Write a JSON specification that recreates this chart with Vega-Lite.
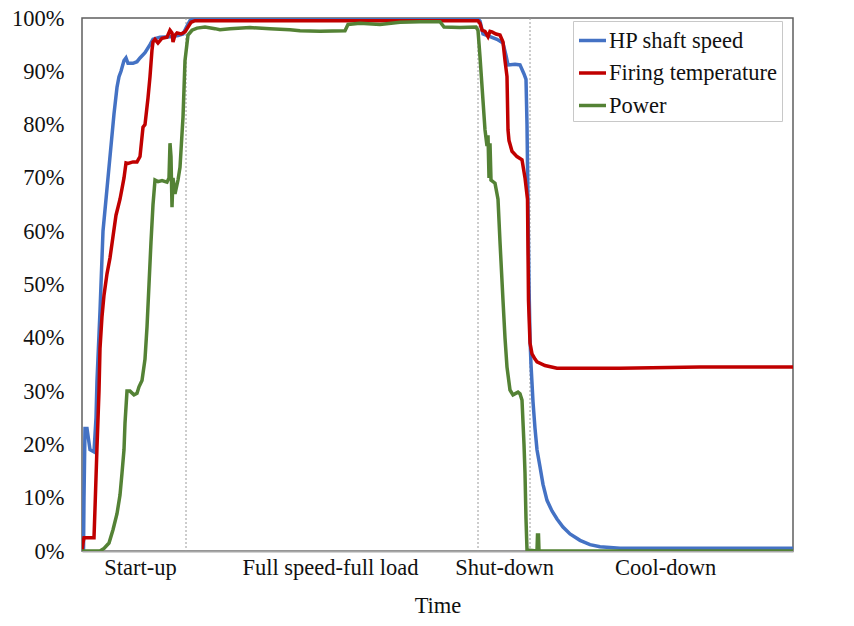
{
  "$schema": "https://vega.github.io/schema/vega-lite/v6.json",
  "autosize": {"type": "none"},
  "padding": {"left": 82, "top": 18, "right": 61, "bottom": 75},
  "width": 711,
  "height": 533,
  "background": "white",
  "config": {
    "view": {"stroke": "#5f5f5f", "strokeWidth": 1.5},
    "font": "Liberation Serif"
  },
  "datasets": {
    "series": [
      {"t": 0, "v": 0, "s": "HP shaft speed"},
      {"t": 1.5, "v": 0, "s": "HP shaft speed"},
      {"t": 2, "v": 10, "s": "HP shaft speed"},
      {"t": 3, "v": 23, "s": "HP shaft speed"},
      {"t": 5, "v": 23, "s": "HP shaft speed"},
      {"t": 8, "v": 19, "s": "HP shaft speed"},
      {"t": 12, "v": 18.6, "s": "HP shaft speed"},
      {"t": 14, "v": 25, "s": "HP shaft speed"},
      {"t": 15, "v": 32, "s": "HP shaft speed"},
      {"t": 18, "v": 45, "s": "HP shaft speed"},
      {"t": 21, "v": 60, "s": "HP shaft speed"},
      {"t": 24, "v": 66, "s": "HP shaft speed"},
      {"t": 26, "v": 70, "s": "HP shaft speed"},
      {"t": 29, "v": 76, "s": "HP shaft speed"},
      {"t": 32, "v": 82, "s": "HP shaft speed"},
      {"t": 35, "v": 87, "s": "HP shaft speed"},
      {"t": 37, "v": 89, "s": "HP shaft speed"},
      {"t": 39, "v": 90, "s": "HP shaft speed"},
      {"t": 42, "v": 92, "s": "HP shaft speed"},
      {"t": 44, "v": 92.5, "s": "HP shaft speed"},
      {"t": 46, "v": 91.5, "s": "HP shaft speed"},
      {"t": 51, "v": 91.5, "s": "HP shaft speed"},
      {"t": 55, "v": 91.8, "s": "HP shaft speed"},
      {"t": 58, "v": 92.5, "s": "HP shaft speed"},
      {"t": 63, "v": 93.5, "s": "HP shaft speed"},
      {"t": 68, "v": 95, "s": "HP shaft speed"},
      {"t": 71, "v": 96, "s": "HP shaft speed"},
      {"t": 78, "v": 96.4, "s": "HP shaft speed"},
      {"t": 88, "v": 96.5, "s": "HP shaft speed"},
      {"t": 96, "v": 96.7, "s": "HP shaft speed"},
      {"t": 101, "v": 97, "s": "HP shaft speed"},
      {"t": 105, "v": 98.5, "s": "HP shaft speed"},
      {"t": 108, "v": 99.5, "s": "HP shaft speed"},
      {"t": 111, "v": 99.8, "s": "HP shaft speed"},
      {"t": 250, "v": 99.8, "s": "HP shaft speed"},
      {"t": 396, "v": 99.8, "s": "HP shaft speed"},
      {"t": 398, "v": 99.4, "s": "HP shaft speed"},
      {"t": 401, "v": 97, "s": "HP shaft speed"},
      {"t": 408, "v": 96.5, "s": "HP shaft speed"},
      {"t": 415, "v": 96, "s": "HP shaft speed"},
      {"t": 421, "v": 95.3, "s": "HP shaft speed"},
      {"t": 424, "v": 93, "s": "HP shaft speed"},
      {"t": 426, "v": 91.2, "s": "HP shaft speed"},
      {"t": 433, "v": 91.3, "s": "HP shaft speed"},
      {"t": 438, "v": 91.2, "s": "HP shaft speed"},
      {"t": 442, "v": 89.5, "s": "HP shaft speed"},
      {"t": 444, "v": 88.5, "s": "HP shaft speed"},
      {"t": 445, "v": 80, "s": "HP shaft speed"},
      {"t": 446, "v": 65, "s": "HP shaft speed"},
      {"t": 447, "v": 50, "s": "HP shaft speed"},
      {"t": 448, "v": 40, "s": "HP shaft speed"},
      {"t": 449, "v": 35, "s": "HP shaft speed"},
      {"t": 451, "v": 28, "s": "HP shaft speed"},
      {"t": 453, "v": 23, "s": "HP shaft speed"},
      {"t": 455, "v": 19, "s": "HP shaft speed"},
      {"t": 458, "v": 15.8, "s": "HP shaft speed"},
      {"t": 461, "v": 12.5, "s": "HP shaft speed"},
      {"t": 465, "v": 9.5, "s": "HP shaft speed"},
      {"t": 470, "v": 7.5, "s": "HP shaft speed"},
      {"t": 475, "v": 6, "s": "HP shaft speed"},
      {"t": 481, "v": 4.5, "s": "HP shaft speed"},
      {"t": 488, "v": 3.2, "s": "HP shaft speed"},
      {"t": 498, "v": 2, "s": "HP shaft speed"},
      {"t": 508, "v": 1.2, "s": "HP shaft speed"},
      {"t": 518, "v": 0.8, "s": "HP shaft speed"},
      {"t": 538, "v": 0.5, "s": "HP shaft speed"},
      {"t": 620, "v": 0.5, "s": "HP shaft speed"},
      {"t": 711, "v": 0.5, "s": "HP shaft speed"},

      {"t": 0, "v": 0, "s": "Firing temperature"},
      {"t": 1, "v": 1.5, "s": "Firing temperature"},
      {"t": 2, "v": 2.5, "s": "Firing temperature"},
      {"t": 12, "v": 2.5, "s": "Firing temperature"},
      {"t": 13, "v": 8, "s": "Firing temperature"},
      {"t": 15, "v": 19.5, "s": "Firing temperature"},
      {"t": 17, "v": 30, "s": "Firing temperature"},
      {"t": 18, "v": 38, "s": "Firing temperature"},
      {"t": 20, "v": 44, "s": "Firing temperature"},
      {"t": 22, "v": 48, "s": "Firing temperature"},
      {"t": 25, "v": 52, "s": "Firing temperature"},
      {"t": 28, "v": 55, "s": "Firing temperature"},
      {"t": 31, "v": 59, "s": "Firing temperature"},
      {"t": 34, "v": 63, "s": "Firing temperature"},
      {"t": 36, "v": 64.5, "s": "Firing temperature"},
      {"t": 38, "v": 66, "s": "Firing temperature"},
      {"t": 40, "v": 68, "s": "Firing temperature"},
      {"t": 42, "v": 70, "s": "Firing temperature"},
      {"t": 44, "v": 72.8, "s": "Firing temperature"},
      {"t": 46, "v": 72.7, "s": "Firing temperature"},
      {"t": 51, "v": 73, "s": "Firing temperature"},
      {"t": 55, "v": 73, "s": "Firing temperature"},
      {"t": 58, "v": 74, "s": "Firing temperature"},
      {"t": 61, "v": 79.5, "s": "Firing temperature"},
      {"t": 63, "v": 80, "s": "Firing temperature"},
      {"t": 66, "v": 85, "s": "Firing temperature"},
      {"t": 68, "v": 89, "s": "Firing temperature"},
      {"t": 70, "v": 94, "s": "Firing temperature"},
      {"t": 71, "v": 95.5, "s": "Firing temperature"},
      {"t": 73, "v": 96, "s": "Firing temperature"},
      {"t": 76, "v": 95.3, "s": "Firing temperature"},
      {"t": 80, "v": 96.2, "s": "Firing temperature"},
      {"t": 85, "v": 96.4, "s": "Firing temperature"},
      {"t": 88, "v": 97.7, "s": "Firing temperature"},
      {"t": 90, "v": 97.2, "s": "Firing temperature"},
      {"t": 91, "v": 95.5, "s": "Firing temperature"},
      {"t": 93, "v": 96.8, "s": "Firing temperature"},
      {"t": 95, "v": 97.2, "s": "Firing temperature"},
      {"t": 99, "v": 97, "s": "Firing temperature"},
      {"t": 103, "v": 97.4, "s": "Firing temperature"},
      {"t": 106, "v": 98.3, "s": "Firing temperature"},
      {"t": 109, "v": 99.2, "s": "Firing temperature"},
      {"t": 113, "v": 99.5, "s": "Firing temperature"},
      {"t": 250, "v": 99.5, "s": "Firing temperature"},
      {"t": 396, "v": 99.5, "s": "Firing temperature"},
      {"t": 398, "v": 99, "s": "Firing temperature"},
      {"t": 400, "v": 97.7, "s": "Firing temperature"},
      {"t": 403, "v": 97.5, "s": "Firing temperature"},
      {"t": 406, "v": 96.5, "s": "Firing temperature"},
      {"t": 408, "v": 97.5, "s": "Firing temperature"},
      {"t": 410, "v": 97.4, "s": "Firing temperature"},
      {"t": 414, "v": 97, "s": "Firing temperature"},
      {"t": 418, "v": 96.8, "s": "Firing temperature"},
      {"t": 421, "v": 95.5, "s": "Firing temperature"},
      {"t": 423, "v": 92, "s": "Firing temperature"},
      {"t": 425, "v": 89, "s": "Firing temperature"},
      {"t": 426, "v": 79, "s": "Firing temperature"},
      {"t": 427, "v": 77, "s": "Firing temperature"},
      {"t": 430, "v": 75, "s": "Firing temperature"},
      {"t": 435, "v": 74, "s": "Firing temperature"},
      {"t": 440, "v": 73.4, "s": "Firing temperature"},
      {"t": 443, "v": 70, "s": "Firing temperature"},
      {"t": 445.5, "v": 66, "s": "Firing temperature"},
      {"t": 446.5, "v": 47, "s": "Firing temperature"},
      {"t": 448, "v": 39, "s": "Firing temperature"},
      {"t": 450, "v": 37, "s": "Firing temperature"},
      {"t": 453, "v": 36, "s": "Firing temperature"},
      {"t": 455, "v": 35.5, "s": "Firing temperature"},
      {"t": 463, "v": 34.8, "s": "Firing temperature"},
      {"t": 475, "v": 34.3, "s": "Firing temperature"},
      {"t": 538, "v": 34.3, "s": "Firing temperature"},
      {"t": 618, "v": 34.5, "s": "Firing temperature"},
      {"t": 711, "v": 34.5, "s": "Firing temperature"},

      {"t": 0, "v": 0, "s": "Power"},
      {"t": 18, "v": 0, "s": "Power"},
      {"t": 22, "v": 0.5, "s": "Power"},
      {"t": 27, "v": 1.5, "s": "Power"},
      {"t": 31, "v": 4, "s": "Power"},
      {"t": 35, "v": 7, "s": "Power"},
      {"t": 38, "v": 10.5, "s": "Power"},
      {"t": 40, "v": 14.6, "s": "Power"},
      {"t": 42, "v": 19, "s": "Power"},
      {"t": 43, "v": 24, "s": "Power"},
      {"t": 45, "v": 30, "s": "Power"},
      {"t": 48, "v": 30, "s": "Power"},
      {"t": 52, "v": 29.3, "s": "Power"},
      {"t": 55, "v": 29.6, "s": "Power"},
      {"t": 57, "v": 30.8, "s": "Power"},
      {"t": 60, "v": 32, "s": "Power"},
      {"t": 63, "v": 36, "s": "Power"},
      {"t": 65, "v": 42, "s": "Power"},
      {"t": 67, "v": 50, "s": "Power"},
      {"t": 69, "v": 58, "s": "Power"},
      {"t": 71, "v": 65, "s": "Power"},
      {"t": 73, "v": 69.6, "s": "Power"},
      {"t": 76, "v": 69.3, "s": "Power"},
      {"t": 80, "v": 69.5, "s": "Power"},
      {"t": 85, "v": 69.2, "s": "Power"},
      {"t": 87, "v": 70, "s": "Power"},
      {"t": 88, "v": 76.5, "s": "Power"},
      {"t": 89, "v": 74, "s": "Power"},
      {"t": 90, "v": 64.5, "s": "Power"},
      {"t": 91, "v": 70, "s": "Power"},
      {"t": 93, "v": 67, "s": "Power"},
      {"t": 96, "v": 69.6, "s": "Power"},
      {"t": 98, "v": 72, "s": "Power"},
      {"t": 101, "v": 81.4, "s": "Power"},
      {"t": 103, "v": 92, "s": "Power"},
      {"t": 106, "v": 96.8, "s": "Power"},
      {"t": 110, "v": 97.7, "s": "Power"},
      {"t": 115, "v": 98.1, "s": "Power"},
      {"t": 123, "v": 98.3, "s": "Power"},
      {"t": 133, "v": 98, "s": "Power"},
      {"t": 138, "v": 97.8, "s": "Power"},
      {"t": 148, "v": 98, "s": "Power"},
      {"t": 168, "v": 98.2, "s": "Power"},
      {"t": 188, "v": 98, "s": "Power"},
      {"t": 208, "v": 97.8, "s": "Power"},
      {"t": 218, "v": 97.6, "s": "Power"},
      {"t": 238, "v": 97.5, "s": "Power"},
      {"t": 263, "v": 97.6, "s": "Power"},
      {"t": 266, "v": 98.8, "s": "Power"},
      {"t": 278, "v": 99, "s": "Power"},
      {"t": 298, "v": 98.8, "s": "Power"},
      {"t": 318, "v": 99.2, "s": "Power"},
      {"t": 338, "v": 99.3, "s": "Power"},
      {"t": 358, "v": 99.3, "s": "Power"},
      {"t": 362, "v": 98.3, "s": "Power"},
      {"t": 378, "v": 98.2, "s": "Power"},
      {"t": 394, "v": 98.3, "s": "Power"},
      {"t": 396, "v": 97.7, "s": "Power"},
      {"t": 398, "v": 92.7, "s": "Power"},
      {"t": 403, "v": 79, "s": "Power"},
      {"t": 405, "v": 76, "s": "Power"},
      {"t": 406, "v": 78, "s": "Power"},
      {"t": 407, "v": 70, "s": "Power"},
      {"t": 408, "v": 76.5, "s": "Power"},
      {"t": 409, "v": 69.6, "s": "Power"},
      {"t": 413, "v": 69, "s": "Power"},
      {"t": 416, "v": 66, "s": "Power"},
      {"t": 418, "v": 58, "s": "Power"},
      {"t": 421, "v": 47, "s": "Power"},
      {"t": 423, "v": 40, "s": "Power"},
      {"t": 425, "v": 34.5, "s": "Power"},
      {"t": 428, "v": 30.2, "s": "Power"},
      {"t": 431, "v": 29.3, "s": "Power"},
      {"t": 436, "v": 29.8, "s": "Power"},
      {"t": 438, "v": 29.5, "s": "Power"},
      {"t": 440, "v": 28.3, "s": "Power"},
      {"t": 442, "v": 20, "s": "Power"},
      {"t": 443, "v": 14.6, "s": "Power"},
      {"t": 444, "v": 6, "s": "Power"},
      {"t": 445, "v": 0.2, "s": "Power"},
      {"t": 455, "v": 0, "s": "Power"},
      {"t": 455.5, "v": 3, "s": "Power"},
      {"t": 456.5, "v": 3, "s": "Power"},
      {"t": 457, "v": 0, "s": "Power"},
      {"t": 711, "v": 0, "s": "Power"}
    ],
    "phases": [
      {"t": 104},
      {"t": 396},
      {"t": 448}
    ]
  },
  "layer": [
    {
      "data": {"name": "phases"},
      "mark": {"type": "rule", "color": "#9a9a9a", "strokeWidth": 1, "strokeDash": [2, 2]},
      "encoding": {
        "x": {"field": "t", "type": "quantitative", "scale": {"domain": [0, 711], "nice": false, "zero": false}}
      }
    },
    {
      "data": {"name": "series"},
      "mark": {"type": "line", "strokeWidth": 3.5, "clip": true},
      "encoding": {
        "x": {
          "field": "t",
          "type": "quantitative",
          "scale": {"domain": [0, 711], "nice": false, "zero": false},
          "axis": {
            "values": [58, 248, 422, 583],
            "labelExpr": "datum.value == 58 ? 'Start-up' : datum.value == 248 ? 'Full speed-full load' : datum.value == 422 ? 'Shut-down' : 'Cool-down'",
            "ticks": false,
            "tickSize": 0,
            "grid": false,
            "domainColor": "#a6a6a6",
            "domainWidth": 2,
            "labelFont": "Liberation Serif",
            "labelFontSize": 22.5,
            "labelColor": "#111",
            "labelPadding": 5,
            "labelFlush": false,
            "labelOverlap": false,
            "title": "Time",
            "titleFont": "Liberation Serif",
            "titleFontSize": 22.5,
            "titleFontWeight": "normal",
            "titleColor": "#111",
            "titlePadding": 16
          }
        },
        "y": {
          "field": "v",
          "type": "quantitative",
          "scale": {"domain": [0, 100], "nice": false},
          "axis": {
            "values": [0, 10, 20, 30, 40, 50, 60, 70, 80, 90, 100],
            "labelExpr": "datum.value + '%'",
            "ticks": false,
            "tickSize": 0,
            "grid": false,
            "domain": false,
            "labelFont": "Liberation Serif",
            "labelFontSize": 22.5,
            "labelColor": "#111",
            "labelPadding": 18,
            "labelFlush": false,
            "labelOverlap": false,
            "title": null
          }
        },
        "color": {
          "field": "s",
          "type": "nominal",
          "scale": {
            "domain": ["HP shaft speed", "Firing temperature", "Power"],
            "range": ["#4472c4", "#c00000", "#548235"]
          },
          "legend": {
            "title": null,
            "orient": "none",
            "legendX": 491,
            "legendY": 3,
            "padding": 4,
            "strokeColor": "#c8c8c8",
            "fillColor": "white",
            "symbolType": "stroke",
            "symbolSize": 729,
            "symbolStrokeWidth": 3.5,
            "labelFont": "Liberation Serif",
            "labelFontSize": 22.5,
            "labelColor": "#111",
            "labelOffset": 1,
            "rowPadding": 5.5,
            "labelLimit": 300
          }
        }
      }
    }
  ]
}
